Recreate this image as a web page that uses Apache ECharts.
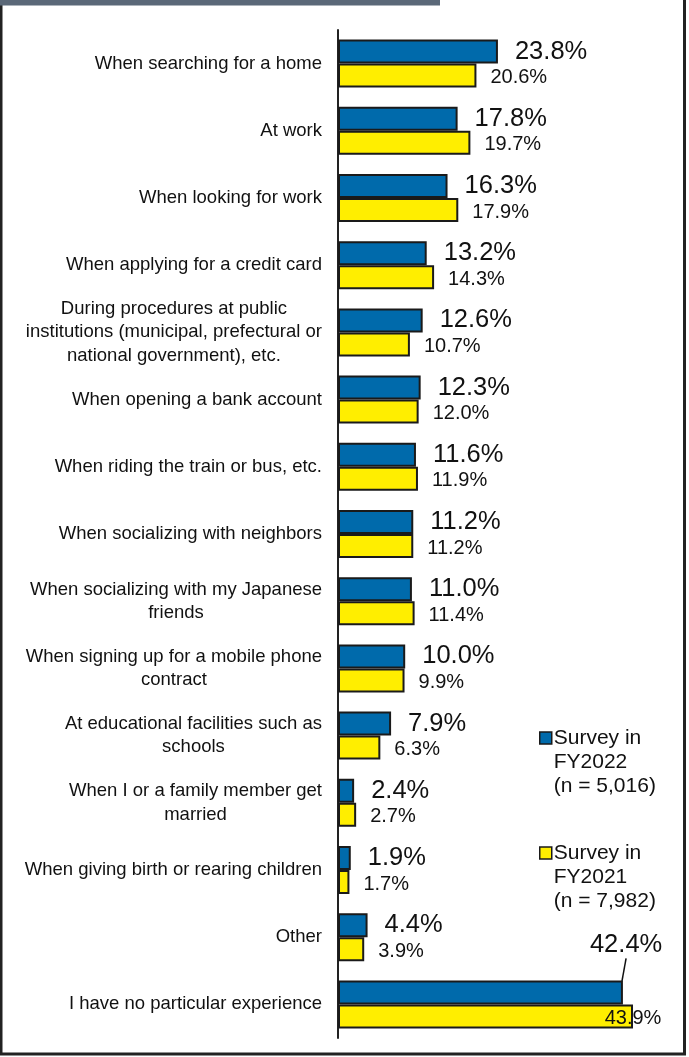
<!DOCTYPE html>
<html>
<head>
<meta charset="utf-8">
<script src="https://cdn.jsdelivr.net/npm/echarts@6/dist/echarts.min.js"></script>
<style>
  html, body { margin: 0; padding: 0; background: #ffffff; }
  #chart { width: 689px; height: 1057px; }
</style>
</head>
<body>
<div id="chart"></div>
<script>
// Situations where respondents experienced discrimination (%)
const categories = [
  'When searching for a home',
  'At work',
  'When looking for work',
  'When applying for a credit card',
  'During procedures at public\ninstitutions (municipal, prefectural or\nnational government), etc.',
  'When opening a bank account',
  'When riding the train or bus, etc.',
  'When socializing with neighbors',
  'When socializing with my Japanese\nfriends',
  'When signing up for a mobile phone\ncontract',
  'At educational facilities such as\nschools',
  'When I or a family member get\nmarried',
  'When giving birth or rearing children',
  'Other',
  'I have no particular experience'
];
const fy2022 = [23.8, 17.8, 16.3, 13.2, 12.6, 12.3, 11.6, 11.2, 11.0, 10.0, 7.9, 2.4, 1.9, 4.4, 42.4];
const fy2021 = [20.6, 19.7, 17.9, 14.3, 10.7, 12.0, 11.9, 11.2, 11.4, 9.9, 6.3, 2.7, 1.7, 3.9, 43.9];
const seriesNames = ['Survey in FY2022 (n = 5,016)', 'Survey in FY2021 (n = 7,982)'];
const legendText = ['Survey in\nFY2022\n(n = 5,016)', 'Survey in\nFY2021\n(n = 7,982)'];

const FONT = '"Liberation Sans", Arial, sans-serif';
const BLUE = '#006aab';
const YELLOW = '#ffee00';
const EDGE = '#1a1a1a';
const lastIdx = categories.length - 1;

const pct = p => Number(p.value).toFixed(1) + '%';

// The last FY2022 label sits above its bar with a leader line;
// the last FY2021 label is centred on its bar end.
const blueData = fy2022.map((v, i) => i === lastIdx
  ? { value: v, labelLine: { show: true, lineStyle: { color: '#111', width: 1.5 } } }
  : v);
const yellowData = fy2021.map((v, i) => i === lastIdx
  ? { value: v, label: { align: 'center', distance: 0 } }
  : v);

const chart = echarts.init(document.getElementById('chart'), null, { renderer: 'canvas' });

// Legend text is vertically centred on the icon, so two blank lines are
// prepended to bring the first text line level with the swatch.
const legendCommon = {
  orient: 'vertical',
  padding: 0,
  itemWidth: 12,
  itemHeight: 12,
  icon: 'rect',
  selectedMode: false,
  itemStyle: { borderColor: EDGE, borderWidth: 1.5 },
  formatter: name => '\n\n' + legendText[seriesNames.indexOf(name)],
  textStyle: {
    fontFamily: FONT,
    fontSize: 21,
    lineHeight: 24,
    color: '#111',
    padding: [0, 0, 0, -3]
  }
};

chart.setOption({
  animation: false,
  backgroundColor: '#ffffff',
  grid: { left: 338, top: 30, width: 336, height: 1008, containLabel: false },
  legend: [
    Object.assign({}, legendCommon, { data: [seriesNames[0]], left: 539, top: 678 }),
    Object.assign({}, legendCommon, { data: [seriesNames[1]], left: 539, top: 793 })
  ],
  xAxis: { type: 'value', min: 0, max: 50, show: false },
  yAxis: {
    type: 'category',
    inverse: true,
    data: categories,
    axisLine: { show: true, lineStyle: { color: '#222', width: 2 } },
    axisTick: { show: false },
    axisLabel: {
      margin: 16,
      interval: 0,
      color: '#111',
      fontFamily: FONT,
      fontSize: 18.5,
      lineHeight: 23.5,
      formatter: v => v.split('\n').map(s => '{c|' + s + '}').join('\n'),
      rich: { c: { align: 'center', fontFamily: FONT, fontSize: 18.5, lineHeight: 23.5, color: '#111' } }
    }
  },
  series: [
    {
      name: seriesNames[0],
      type: 'bar',
      data: blueData,
      barWidth: 24,
      barGap: '0%',
      itemStyle: { color: BLUE, borderColor: EDGE, borderWidth: 2 },
      label: {
        show: true, position: 'right', distance: 17, offset: [0, 2],
        fontFamily: FONT, fontSize: 25.5, color: '#111', formatter: pct
      },
      labelLayout: p => (p.dataIndex === lastIdx ? { dx: -50, dy: -47 } : {})
    },
    {
      name: seriesNames[1],
      type: 'bar',
      data: yellowData,
      barWidth: 24,
      barGap: '0%',
      itemStyle: { color: YELLOW, borderColor: EDGE, borderWidth: 2 },
      label: {
        show: true, position: 'right', distance: 14, offset: [0, 2],
        fontFamily: FONT, fontSize: 20, color: '#111', formatter: pct
      }
    }
  ],
  graphic: [
    // outer frame
    { type: 'rect', silent: true, z: 100,
      shape: { x: 1, y: -10, width: 683.5, height: 1064 },
      style: { fill: null, stroke: '#222', lineWidth: 3 } },
    // header strip
    { type: 'rect', silent: true, z: 101,
      shape: { x: 0, y: 0, width: 440, height: 5.5 },
      style: { fill: '#5b6878' } }
  ]
});
</script>
</body>
</html>
